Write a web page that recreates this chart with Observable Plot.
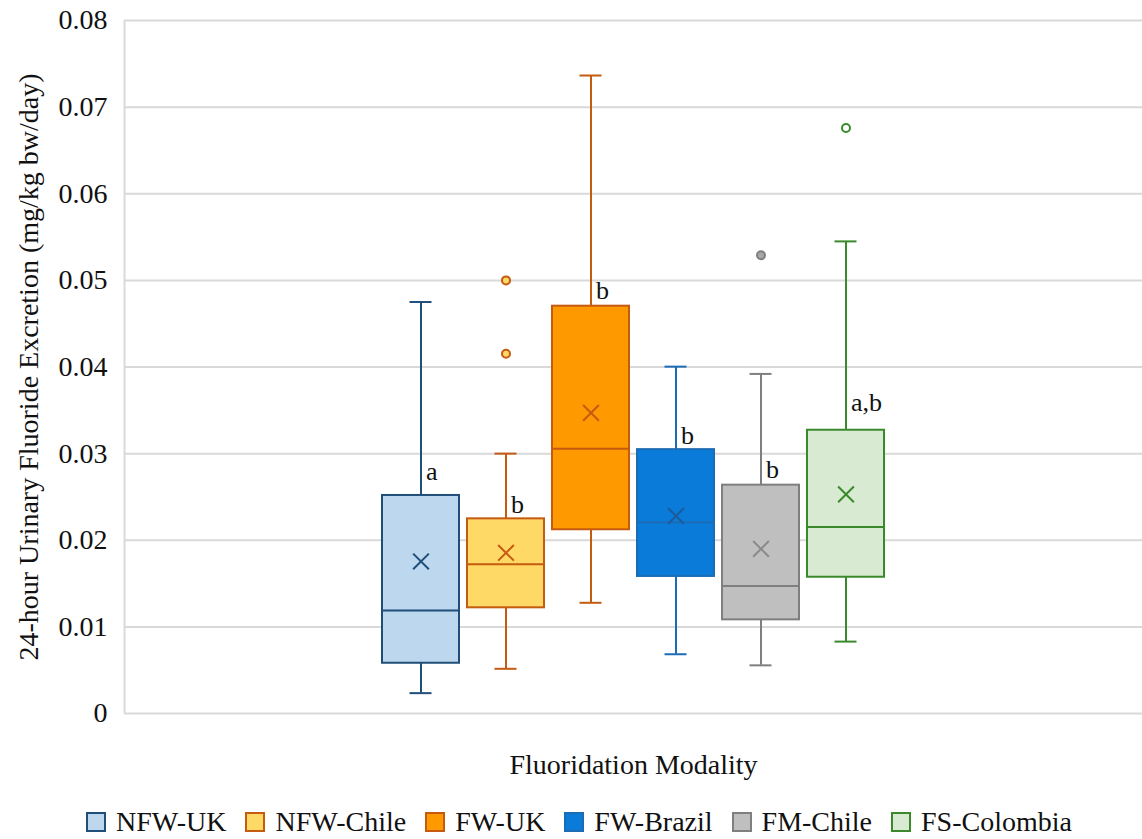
<!DOCTYPE html>
<html>
<head>
<meta charset="utf-8">
<script src="https://cdn.jsdelivr.net/npm/d3@7"></script>
<script src="https://cdn.jsdelivr.net/npm/@observablehq/plot@0.6"></script>
<style>
  body { margin: 0; background: #fff; font-family: "Liberation Serif", "Times New Roman", serif; }
  #chart { width: 1142px; height: 839px; position: relative; }
  .legend { position: absolute; left: 86px; top: 805px; height: 34px; display: flex; align-items: center; font-size: 28px; color: #111; white-space: nowrap; }
  .legend .item { display: flex; align-items: center; margin-right: 19px; }
  .legend .sw { width: 16px; height: 16px; border: 2px solid; margin-right: 10px; }
</style>
</head>
<body>
<div id="chart"></div>
<script>
const series = ["NFW-UK", "NFW-Chile", "FW-UK", "FW-Brazil", "FM-Chile", "FS-Colombia"];
const whiskerLow  = [0.00235, 0.00516, 0.01278, 0.00684, 0.00556, 0.0083];
const q1          = [0.0058, 0.0122, 0.02121, 0.01582, 0.01081, 0.01573];
const median      = [0.01189, 0.01724, 0.03055, 0.02207, 0.01473, 0.02152];
const q3          = [0.02517, 0.02247, 0.04702, 0.03046, 0.02636, 0.0327];
const whiskerHigh = [0.0475, 0.0300, 0.07365, 0.04004, 0.0392, 0.0545];
const means       = [0.01755, 0.01855, 0.03471, 0.0228, 0.0190, 0.0253];
const letters     = ["a", "b", "b", "b", "b", "a,b"];
const letterY     = [0.02794, 0.02413, 0.04883, 0.0321, 0.0281, 0.0359];
const outlierSeries = ["NFW-Chile", "NFW-Chile", "FM-Chile", "FS-Colombia"];
const outlierValues = [0.0500, 0.04152, 0.0529, 0.0676];
const yTicks = [0, 0.01, 0.02, 0.03, 0.04, 0.05, 0.06, 0.07, 0.08];
const yTickLabels = ["0", "0.01", "0.02", "0.03", "0.04", "0.05", "0.06", "0.07", "0.08"];

const fills   = ["#bdd7ee", "#ffd966", "#ff9900", "#0a7bd9", "#bfbfbf", "#d9ead3"];
const strokes = ["#1f4e79", "#c55a11", "#c55a11", "#1b6cb5", "#7f7f7f", "#3a8a2c"];
const meanColors = ["#1f4e79", "#c55a11", "#c55a11", "#1d5a98", "#8a8a8a", "#3a8a2c"];
const outlierFills = ["#ffd966", "#ffd966", "#a6a6a6", "#ffffff"];

const boxes = series.map((s, i) => ({
  series: s, low: whiskerLow[i], q1: q1[i], median: median[i], q3: q3[i],
  high: whiskerHigh[i], mean: means[i], letter: letters[i], letterY: letterY[i]
}));
const outliers = outlierSeries.map((s, i) => ({series: s, value: outlierValues[i], fill: outlierFills[i]}));

const font = "'Liberation Serif', 'Times New Roman', serif";
const strokeOf = (d) => strokes[series.indexOf(d.series)];

const plot = Plot.plot({
  width: 1142,
  height: 790,
  marginLeft: 124,
  marginRight: 0,
  marginTop: 20,
  marginBottom: 77,
  style: {fontFamily: font, background: "#fff"},
  x: {type: "band", domain: series, paddingInner: 0.09, paddingOuter: 2.99, axis: null},
  y: {domain: [0, 0.08], axis: null},
  marks: [
    Plot.gridY(yTicks, {stroke: "#d9d9d9", strokeOpacity: 1, strokeWidth: 2}),
    Plot.ruleX([0], {x: null, y1: 0, y2: 0.08, dx: -509, stroke: "#d9d9d9", strokeWidth: 2}),
    Plot.axisY({ticks: yTicks, tickFormat: (d) => yTickLabels[yTicks.indexOf(d)], tickSize: 0, tickPadding: 17, fontSize: 28, label: null, fill: "#111", fontFamily: font}),
    Plot.text(["24-hour Urinary Fluoride Excretion (mg/kg bw/day)"], {frameAnchor: "left", textAnchor: "middle", lineAnchor: "middle", dx: -95, rotate: -90, fontSize: 28, fill: "#111", fontFamily: font}),
    Plot.text(["Fluoridation Modality"], {frameAnchor: "bottom", textAnchor: "middle", lineAnchor: "middle", dy: 52, fontSize: 28, fill: "#111", fontFamily: font}),
    // whiskers
    Plot.ruleX(boxes, {x: "series", y1: "low", y2: "q1", stroke: strokeOf, strokeWidth: 2}),
    Plot.ruleX(boxes, {x: "series", y1: "q3", y2: "high", stroke: strokeOf, strokeWidth: 2}),
    Plot.tickY(boxes, {x: "series", y: "low", stroke: strokeOf, strokeWidth: 2, insetLeft: 27.5, insetRight: 27.5}),
    Plot.tickY(boxes, {x: "series", y: "high", stroke: strokeOf, strokeWidth: 2, insetLeft: 27.5, insetRight: 27.5}),
    // boxes
    Plot.barY(boxes, {x: "series", y1: "q1", y2: "q3", fill: (d) => fills[series.indexOf(d.series)], stroke: strokeOf, strokeWidth: 2}),
    Plot.tickY(boxes, {x: "series", y: "median", stroke: strokeOf, strokeWidth: 2}),
    Plot.dot(boxes, {x: "series", y: "mean", symbol: "times", r: 7.2, stroke: (d) => meanColors[series.indexOf(d.series)], strokeWidth: 2}),
    Plot.dot(outliers, {x: "series", y: "value", r: 4, fill: "fill", stroke: strokeOf, strokeWidth: 2}),
    Plot.text(boxes, {x: "series", y: "letterY", text: "letter", textAnchor: "start", dx: 5, fontSize: 26, fill: "#111", fontFamily: font})
  ]
});
document.getElementById("chart").appendChild(plot);

const legend = d3.select("#chart").append("div").attr("class", "legend");
series.forEach((s, i) => {
  const item = legend.append("div").attr("class", "item");
  item.append("div").attr("class", "sw").style("background", fills[i]).style("border-color", strokes[i]);
  item.append("span").text(s);
});
</script>
</body>
</html>
